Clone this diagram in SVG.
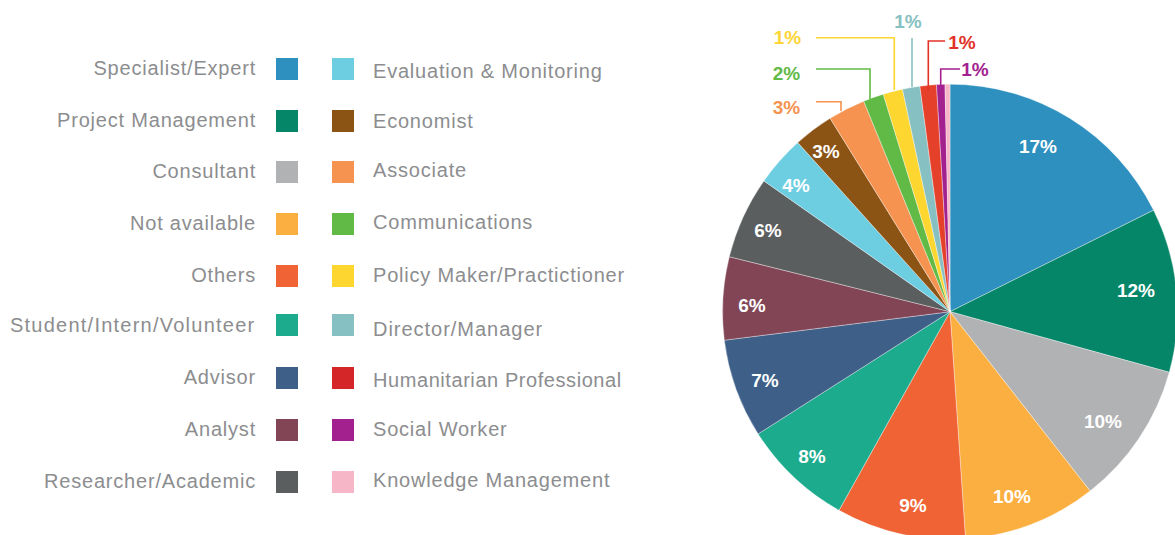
<svg xmlns="http://www.w3.org/2000/svg" width="1175" height="535" viewBox="0 0 1175 535">
<style>
.lg{font-family:"Liberation Sans",Arial,sans-serif;font-size:20px;letter-spacing:0.8px;fill:#8C8D8F}
.lr{text-anchor:end}
.pl{font-family:"Liberation Sans",Arial,sans-serif;font-size:19px;font-weight:bold;fill:#fff;text-anchor:middle}
.ol{font-family:"Liberation Sans",Arial,sans-serif;font-size:19px;font-weight:bold;text-anchor:middle}
.sl{stroke:#fff;stroke-width:0.6;stroke-opacity:0.6}
.ld{fill:none;stroke-width:1.6}
</style>
<rect width="1175" height="535" fill="#fff"/>
<g id="legend">
<g id="lg-specialist"><text class="lg lr" x="256" y="75">Specialist/Expert</text><rect x="276" y="58" width="22" height="22" fill="#2E90BE"/></g>
<g id="lg-project"><text class="lg lr" x="256" y="127">Project Management</text><rect x="276" y="110" width="22" height="22" fill="#058668"/></g>
<g id="lg-consultant"><text class="lg lr" x="256" y="178">Consultant</text><rect x="276" y="161" width="22" height="22" fill="#B1B2B4"/></g>
<g id="lg-notavailable"><text class="lg lr" x="256" y="230">Not available</text><rect x="276" y="213" width="22" height="22" fill="#FBAF40"/></g>
<g id="lg-others"><text class="lg lr" x="256" y="282">Others</text><rect x="276" y="265" width="22" height="22" fill="#F06335"/></g>
<g id="lg-student"><text class="lg" x="10" y="332" textLength="245" lengthAdjust="spacing">Student/Intern/Volunteer</text><rect x="276" y="314" width="22" height="22" fill="#1DAB8D"/></g>
<g id="lg-advisor"><text class="lg lr" x="256" y="384">Advisor</text><rect x="276" y="367" width="22" height="22" fill="#3D5F88"/></g>
<g id="lg-analyst"><text class="lg lr" x="256" y="436">Analyst</text><rect x="276" y="419" width="22" height="22" fill="#824556"/></g>
<g id="lg-researcher"><text class="lg lr" x="256" y="488">Researcher/Academic</text><rect x="276" y="471" width="22" height="22" fill="#5A5E5F"/></g>
<g id="lg-evaluation"><rect x="332" y="58" width="22" height="22" fill="#6DCDE1"/><text class="lg" x="373" y="78">Evaluation &amp; Monitoring</text></g>
<g id="lg-economist"><rect x="332" y="110" width="22" height="22" fill="#8B5314"/><text class="lg" x="373" y="128">Economist</text></g>
<g id="lg-associate"><rect x="332" y="161" width="22" height="22" fill="#F69351"/><text class="lg" x="373" y="177">Associate</text></g>
<g id="lg-communications"><rect x="332" y="213" width="22" height="22" fill="#62BA46"/><text class="lg" x="373" y="229">Communications</text></g>
<g id="lg-policy"><rect x="332" y="265" width="22" height="22" fill="#FED630"/><text class="lg" x="373" y="282">Policy Maker/Practictioner</text></g>
<g id="lg-director"><rect x="332" y="314" width="22" height="22" fill="#87C0C2"/><text class="lg" x="373" y="336" textLength="170" lengthAdjust="spacing">Director/Manager</text></g>
<g id="lg-humanitarian"><rect x="332" y="367" width="22" height="22" fill="#D42529"/><text class="lg" x="373" y="387" textLength="249" lengthAdjust="spacing">Humanitarian Professional</text></g>
<g id="lg-social"><rect x="332" y="419" width="22" height="22" fill="#A3218F"/><text class="lg" x="373" y="436">Social Worker</text></g>
<g id="lg-knowledge"><rect x="332" y="471" width="22" height="22" fill="#F7B5C8"/><text class="lg" x="373" y="487">Knowledge Management</text></g>
</g>
<g id="pie">
<g id="sl-specialist"><path class="sl" d="M950,311.7 L950,84.2 A227.5,227.5 0 0 1 1153.6,210.2 Z" fill="#2E90BE"/><text class="pl" x="1038" y="153">17%</text></g>
<g id="sl-project"><path class="sl" d="M950,311.7 L1153.6,210.2 A227.5,227.5 0 0 1 1169.3,372.3 Z" fill="#058668"/><text class="pl" x="1136" y="297">12%</text></g>
<g id="sl-consultant"><path class="sl" d="M950,311.7 L1169.3,372.3 A227.5,227.5 0 0 1 1090.1,491 Z" fill="#B1B2B4"/><text class="pl" x="1103" y="428">10%</text></g>
<g id="sl-notavailable"><path class="sl" d="M950,311.7 L1090.1,491 A227.5,227.5 0 0 1 965.5,538.7 Z" fill="#FBAF40"/><text class="pl" x="1012" y="503">10%</text></g>
<g id="sl-others"><path class="sl" d="M950,311.7 L965.5,538.7 A227.5,227.5 0 0 1 839,510.3 Z" fill="#F06335"/><text class="pl" x="913" y="512">9%</text></g>
<g id="sl-student"><path class="sl" d="M950,311.7 L839,510.3 A227.5,227.5 0 0 1 758.1,433.9 Z" fill="#1DAB8D"/><text class="pl" x="812" y="463">8%</text></g>
<g id="sl-advisor"><path class="sl" d="M950,311.7 L758.1,433.9 A227.5,227.5 0 0 1 724.3,340.2 Z" fill="#3D5F88"/><text class="pl" x="765" y="387">7%</text></g>
<g id="sl-analyst"><path class="sl" d="M950,311.7 L724.3,340.2 A227.5,227.5 0 0 1 729.3,256.7 Z" fill="#824556"/><text class="pl" x="752" y="312">6%</text></g>
<g id="sl-researcher"><path class="sl" d="M950,311.7 L729.3,256.7 A227.5,227.5 0 0 1 763.9,180.9 Z" fill="#5A5E5F"/><text class="pl" x="768" y="237">6%</text></g>
<g id="sl-evaluation"><path class="sl" d="M950,311.7 L763.9,180.9 A227.5,227.5 0 0 1 797.8,142.6 Z" fill="#6DCDE1"/><text class="pl" x="796" y="192">4%</text></g>
<g id="sl-economist"><path class="sl" d="M950,311.7 L797.8,142.6 A227.5,227.5 0 0 1 830.1,118.3 Z" fill="#8B5314"/><text class="pl" x="826" y="158">3%</text></g>
<g id="sl-associate"><path class="sl" d="M950,311.7 L830.1,118.3 A227.5,227.5 0 0 1 863.7,101.2 Z" fill="#F69351"/></g>
<g id="sl-communications"><path class="sl" d="M950,311.7 L863.7,101.2 A227.5,227.5 0 0 1 883.3,94.2 Z" fill="#62BA46"/></g>
<g id="sl-policy"><path class="sl" d="M950,311.7 L883.3,94.2 A227.5,227.5 0 0 1 902.5,89.2 Z" fill="#FED630"/></g>
<g id="sl-director"><path class="sl" d="M950,311.7 L902.5,89.2 A227.5,227.5 0 0 1 919.9,86.2 Z" fill="#87C0C2"/></g>
<g id="sl-humanitarian"><path class="sl" d="M950,311.7 L919.9,86.2 A227.5,227.5 0 0 1 936.5,84.6 Z" fill="#E5412A"/></g>
<g id="sl-social"><path class="sl" d="M950,311.7 L936.5,84.6 A227.5,227.5 0 0 1 945,84.2 Z" fill="#A3218F"/></g>
<g id="sl-knowledge"><path class="sl" d="M950,311.7 L945,84.2 A227.5,227.5 0 0 1 950,84.2 Z" fill="#F7B5C8"/></g>
</g>
<g id="connectors">
<polyline class="ld" points="816,37.7 894.3,37.7 894.3,90" stroke="#FED630"/>
<polyline class="ld" points="816,69 870,69 870,99" stroke="#62BA46"/>
<polyline class="ld" points="816,101.7 841,101.7 841,111" stroke="#F69351"/>
<polyline class="ld" points="912,38 912,87" stroke="#87C0C2"/>
<polyline class="ld" points="945,41 928.3,41 928.3,91" stroke="#E23227"/>
<polyline class="ld" points="960,69 940.7,69 940.7,85" stroke="#A3218F"/>
</g>
<g id="outside-labels">
<text class="ol" x="787.5" y="44" fill="#FDD535">1%</text>
<text class="ol" x="786.5" y="80" fill="#62BA46">2%</text>
<text class="ol" x="786.5" y="114" fill="#F69351">3%</text>
<text class="ol" x="908" y="28" fill="#87C0C2">1%</text>
<text class="ol" x="962" y="49" fill="#E23227">1%</text>
<text class="ol" x="975" y="76" fill="#A3218F">1%</text>
</g>
</svg>
